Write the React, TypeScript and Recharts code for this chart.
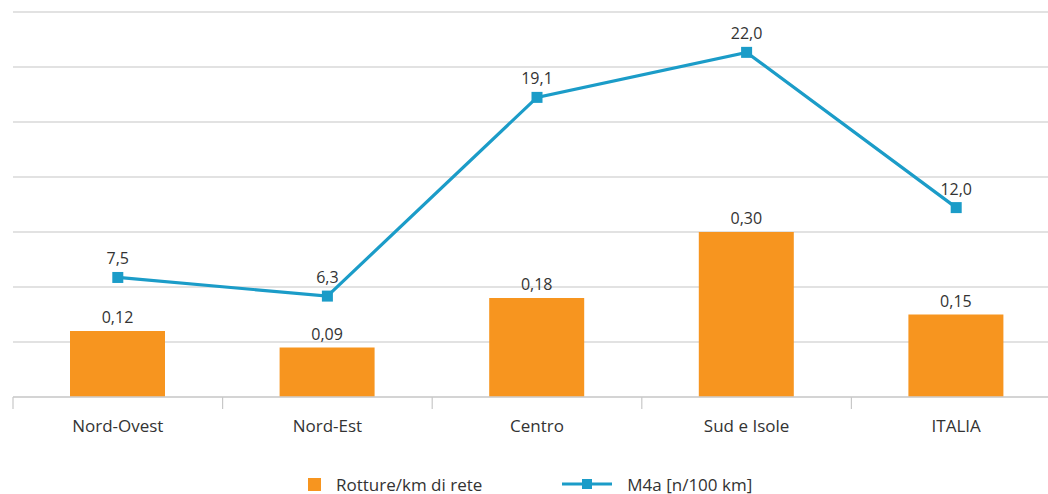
import React from 'react';
import {
  ComposedChart,
  Bar,
  Line,
  XAxis,
  YAxis,
  CartesianGrid,
  LabelList,
  Legend,
} from 'recharts';

// Regions and their values
const regions = ['Nord-Ovest', 'Nord-Est', 'Centro', 'Sud e Isole', 'ITALIA'];
const rottureKm = [0.12, 0.09, 0.18, 0.3, 0.15];
const m4a = [7.5, 6.3, 19.1, 22.0, 12.0];
const leftTicks = [0, 0.1, 0.2, 0.3, 0.4, 0.5, 0.6, 0.7];

const BAR_NAME = 'Rotture/km di rete';
const LINE_NAME = 'M4a [n/100 km]';

const ORANGE = '#F7951F';
const BLUE = '#1B9CC8';
const TEXT = '#333333';
const FONT = '"Open Sans", "Noto Sans", sans-serif';

const data = regions.map((name, i) => ({
  name,
  rotture: rottureKm[i],
  m4a: m4a[i],
}));

const CHART_W = 1080;
const CHART_H = 494;
const X_AXIS_H = 30;
const MARGIN = { top: 12, right: 19, bottom: 97 - X_AXIS_H, left: 13 };
const BAND = (CHART_W - MARGIN.left - MARGIN.right) / regions.length;

const comma = (digits: number) => (v: any) =>
  Number(v).toFixed(digits).replace('.', ',');

// Category label plus tick marks at the band boundaries
const CategoryTick = (props: any) => {
  const { x, y, payload, index } = props;
  const left = x - BAND / 2;
  const right = x + BAND / 2;
  return (
    <g>
      <line x1={left} x2={left} y1={y - 8} y2={y + 4} stroke="#c8c8c8" strokeWidth={1.2} />
      {index === regions.length - 1 && (
        <line x1={right} x2={right} y1={y - 8} y2={y + 4} stroke="#c8c8c8" strokeWidth={1.2} />
      )}
      <text
        x={x}
        y={y + 27}
        textAnchor="middle"
        fill={TEXT}
        fontSize={17}
        fontFamily={FONT}
      >
        {payload.value}
      </text>
    </g>
  );
};

const SquareDot = (props: any) => {
  const { cx, cy } = props;
  if (cx == null || cy == null) return null;
  return <rect x={cx - 5.5} y={cy - 5.5} width={11} height={11} fill={BLUE} />;
};

const LegendContent = () => (
  <div
    style={{
      display: 'flex',
      alignItems: 'center',
      fontFamily: FONT,
      fontSize: 17,
      color: TEXT,
      height: 0,
      overflow: 'visible',
    }}
  >
    <div style={{ display: 'flex', alignItems: 'center', marginLeft: 308 }}>
      <span style={{ width: 13, height: 13, background: ORANGE, display: 'inline-block' }} />
      <span style={{ marginLeft: 15 }}>{BAR_NAME}</span>
    </div>
    <div style={{ display: 'flex', alignItems: 'center', marginLeft: 80 }}>
      <svg width={50} height={12}>
        <line x1={0} x2={50} y1={6} y2={6} stroke={BLUE} strokeWidth={3} />
        <rect x={20} y={1} width={10} height={10} fill={BLUE} />
      </svg>
      <span style={{ marginLeft: 15 }}>{LINE_NAME}</span>
    </div>
  </div>
);

export default function App() {
  return (
    <div
      style={{
        position: 'absolute',
        left: 0,
        top: 0,
        width: 1048,
        height: 494,
        overflow: 'hidden',
        background: '#fff',
      }}
    >
      <ComposedChart width={CHART_W} height={CHART_H} data={data} margin={MARGIN}>
        <CartesianGrid yAxisId="left" vertical={false} stroke="#d9d9d9" strokeWidth={1.6} />
        <XAxis
          dataKey="name"
          height={X_AXIS_H}
          axisLine={{ stroke: '#cfcfcf', strokeWidth: 1.6 }}
          tickLine={false}
          tick={<CategoryTick />}
          interval={0}
        />
        <YAxis yAxisId="left" hide domain={[0, 0.7]} ticks={leftTicks} />
        <YAxis yAxisId="right" hide orientation="right" domain={[-0.2, 24.6]} />
        <Legend
          content={<LegendContent />}
          wrapperStyle={{ position: 'absolute', left: 0, top: 484, width: 1048, height: 0 }}
        />
        <Bar
          yAxisId="left"
          dataKey="rotture"
          name={BAR_NAME}
          fill={ORANGE}
          barSize={95}
          isAnimationActive={false}
        >
          <LabelList
            dataKey="rotture"
            position="top"
            offset={8}
            formatter={comma(2)}
            fill={TEXT}
            fontSize={16}
            fontFamily={FONT}
          />
        </Bar>
        <Line
          yAxisId="right"
          dataKey="m4a"
          name={LINE_NAME}
          stroke={BLUE}
          strokeWidth={3.2}
          dot={<SquareDot />}
          activeDot={false}
          isAnimationActive={false}
        >
          <LabelList
            dataKey="m4a"
            position="top"
            offset={13}
            formatter={comma(1)}
            fill={TEXT}
            fontSize={16}
            fontFamily={FONT}
          />
        </Line>
      </ComposedChart>
    </div>
  );
}
